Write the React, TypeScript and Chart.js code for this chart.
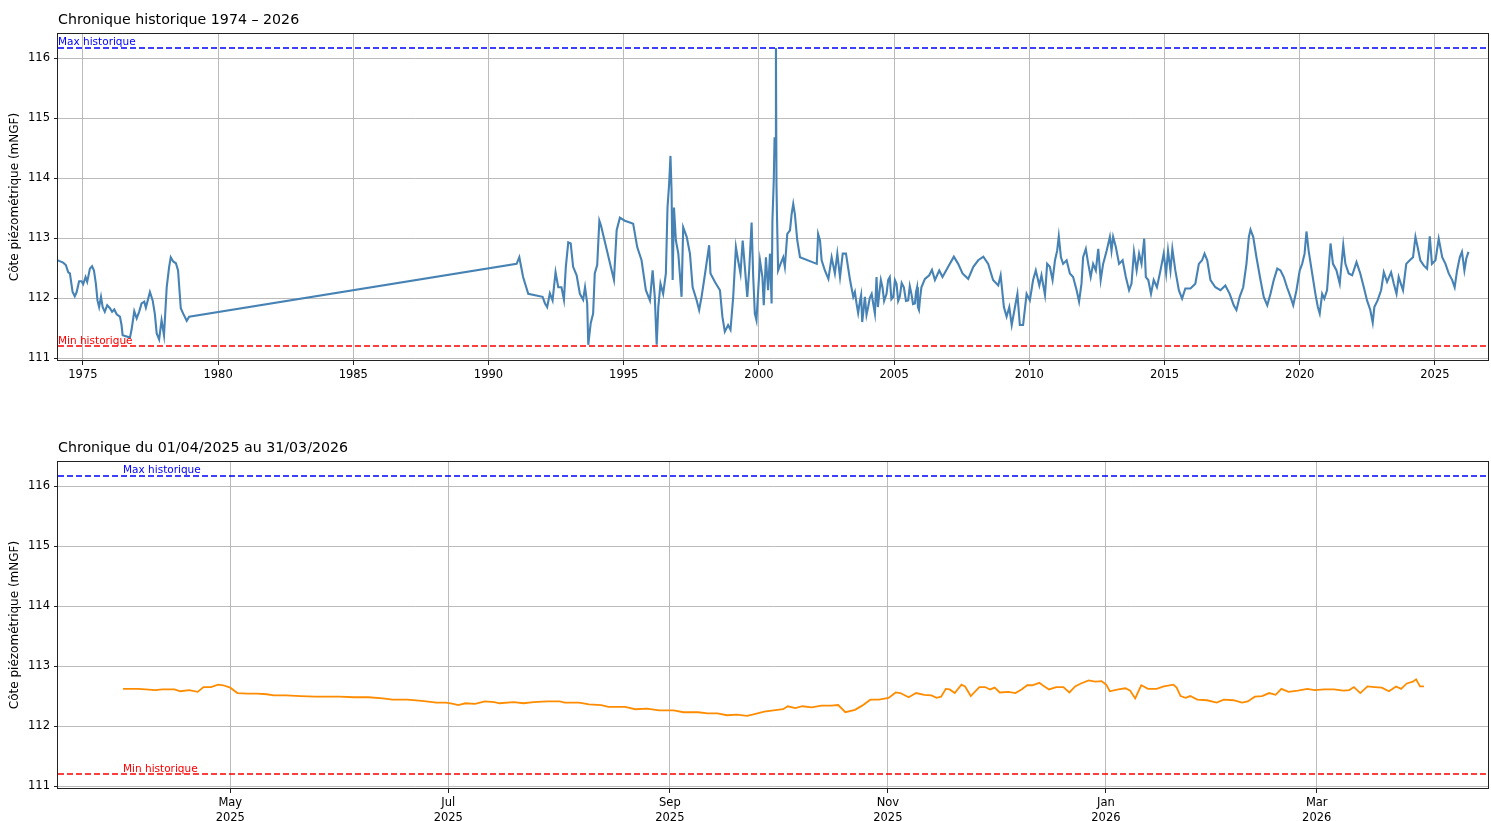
import React, { useEffect, useRef } from "react";
import { Chart, registerables } from "chart.js";

Chart.register(...registerables);

const MAX_HIST = 116.17;
const MIN_HIST = 111.2;

const yTicks = [111, 112, 113, 114, 115, 116];
const yearTicks = [1975, 1980, 1985, 1990, 1995, 2000, 2005, 2010, 2015, 2020, 2025];
const monthTickDays = [30, 91, 153, 214, 275, 334];
const monthTickLabels = [
  ["May", "2025"],
  ["Jul", "2025"],
  ["Sep", "2025"],
  ["Nov", "2025"],
  ["Jan", "2026"],
  ["Mar", "2026"],
];

// Historical series: fractional years
const histYears = [
  1974.08, 1974.12, 1974.27, 1974.37, 1974.46, 1974.52, 1974.62, 1974.70, 1974.77, 1974.86, 1974.95,
  1975.01, 1975.10, 1975.16, 1975.26, 1975.34, 1975.41, 1975.48, 1975.54, 1975.60, 1975.67, 1975.73,
  1975.81, 1975.90, 1976.00, 1976.08, 1976.16, 1976.25, 1976.37, 1976.43, 1976.47, 1976.74, 1976.80,
  1976.90, 1976.99, 1977.08, 1977.17, 1977.27, 1977.33, 1977.48, 1977.58, 1977.66, 1977.73, 1977.82,
  1977.91, 1978.00, 1978.10, 1978.19, 1978.25, 1978.34, 1978.44, 1978.52, 1978.62, 1978.71, 1978.84,
  1978.93,
  1991.04, 1991.14, 1991.28, 1991.47, 1992.00, 1992.09, 1992.17, 1992.27, 1992.37, 1992.48, 1992.58,
  1992.70, 1992.79, 1992.86, 1992.95, 1993.04, 1993.13, 1993.26, 1993.38, 1993.50, 1993.57, 1993.65,
  1993.69, 1993.78, 1993.87, 1993.93, 1994.02, 1994.10, 1994.16, 1994.64, 1994.74, 1994.86, 1995.04,
  1995.23, 1995.35, 1995.50, 1995.66, 1995.82, 1995.97, 1996.07, 1996.15, 1996.22, 1996.28, 1996.36,
  1996.46, 1996.56, 1996.62, 1996.68, 1996.73, 1996.77, 1996.81, 1996.86, 1996.93, 1997.02, 1997.14,
  1997.20, 1997.33, 1997.45, 1997.55, 1997.70, 1997.79, 1997.88, 1998.00, 1998.16, 1998.21, 1998.37,
  1998.56, 1998.65, 1998.74, 1998.86, 1998.95, 1999.05, 1999.15, 1999.23, 1999.32, 1999.40, 1999.48,
  1999.57, 1999.64, 1999.73, 1999.79, 1999.85, 1999.91, 2000.04, 2000.13, 2000.18, 2000.26, 2000.34,
  2000.41, 2000.47, 2000.50, 2000.55, 2000.58, 2000.60, 2000.63, 2000.65, 2000.67, 2000.71, 2000.80,
  2000.90, 2000.96, 2001.05, 2001.15, 2001.21, 2001.27, 2001.33, 2001.42, 2001.52, 2002.14, 2002.19,
  2002.26, 2002.32, 2002.44, 2002.57, 2002.69, 2002.81, 2002.90, 2003.00, 2003.10, 2003.22, 2003.37,
  2003.49, 2003.55, 2003.61, 2003.67, 2003.74, 2003.78, 2003.82, 2003.87, 2003.92, 2003.98, 2004.04,
  2004.10, 2004.17, 2004.23, 2004.29, 2004.35, 2004.40, 2004.45, 2004.51, 2004.57, 2004.63, 2004.72,
  2004.78, 2004.84, 2004.90, 2004.97, 2005.03, 2005.09, 2005.15, 2005.21, 2005.28, 2005.36, 2005.44,
  2005.52, 2005.58, 2005.64, 2005.70, 2005.77, 2005.81, 2005.85, 2005.88, 2005.92, 2005.96, 2006.01,
  2006.14, 2006.30, 2006.40, 2006.51, 2006.67, 2006.79, 2007.00, 2007.21, 2007.37, 2007.53, 2007.74,
  2007.93, 2008.11, 2008.30, 2008.48, 2008.66, 2008.85, 2008.94, 2009.06, 2009.16, 2009.26, 2009.35,
  2009.47, 2009.56, 2009.65, 2009.77, 2009.90, 2010.02, 2010.14, 2010.24, 2010.37, 2010.45, 2010.58,
  2010.66, 2010.76, 2010.86, 2010.95, 2011.03, 2011.09, 2011.17, 2011.25, 2011.38, 2011.50, 2011.62,
  2011.75, 2011.84, 2011.93, 2011.99, 2012.09, 2012.18, 2012.27, 2012.36, 2012.46, 2012.55, 2012.64,
  2012.73, 2012.86, 2012.98, 2013.04, 2013.10, 2013.20, 2013.32, 2013.45, 2013.57, 2013.69, 2013.78,
  2013.87, 2013.97, 2014.06, 2014.15, 2014.25, 2014.31, 2014.40, 2014.50, 2014.60, 2014.72, 2014.85,
  2014.97, 2015.06, 2015.13, 2015.22, 2015.29, 2015.40, 2015.53, 2015.65, 2015.77, 2015.96, 2016.14,
  2016.27, 2016.39, 2016.48, 2016.58, 2016.70, 2016.88, 2017.07, 2017.25, 2017.41, 2017.56, 2017.66,
  2017.78, 2017.91, 2018.03, 2018.12, 2018.18, 2018.28, 2018.40, 2018.55, 2018.67, 2018.80, 2018.92,
  2019.04, 2019.17, 2019.29, 2019.41, 2019.53, 2019.66, 2019.76, 2019.88, 2020.00, 2020.09, 2020.18,
  2020.25, 2020.33, 2020.46, 2020.58, 2020.67, 2020.74, 2020.83, 2020.91, 2021.01, 2021.14, 2021.23,
  2021.36, 2021.48, 2021.61, 2021.69, 2021.81, 2021.94, 2022.10, 2022.24, 2022.37, 2022.49, 2022.61,
  2022.70, 2022.76, 2022.88, 2023.01, 2023.11, 2023.23, 2023.38, 2023.48, 2023.58, 2023.66, 2023.82,
  2023.94, 2024.07, 2024.19, 2024.28, 2024.36, 2024.46, 2024.59, 2024.71, 2024.81, 2024.89, 2025.02,
  2025.14, 2025.27, 2025.39, 2025.51, 2025.64, 2025.73, 2025.82, 2025.92, 2026.00, 2026.09, 2026.16,
  2026.24,
];

const histLevels = [
  112.63, 112.62, 112.59, 112.55, 112.43, 112.41, 112.10, 112.03, 112.10, 112.28, 112.28,
  112.23, 112.35, 112.27, 112.49, 112.53, 112.46, 112.24, 111.96, 111.85, 112.02, 111.85,
  111.77, 111.88, 111.83, 111.77, 111.81, 111.73, 111.69, 111.55, 111.38, 111.34, 111.47,
  111.78, 111.66, 111.77, 111.91, 111.94, 111.84, 112.10, 111.96, 111.74, 111.41, 111.31,
  111.63, 111.38, 112.18, 112.52, 112.68, 112.61, 112.58, 112.46, 111.83, 111.74, 111.62,
  111.69,
  112.57, 112.68, 112.35, 112.07, 112.02, 111.91, 111.85, 112.08, 111.96, 112.43, 112.18,
  112.18, 111.97, 112.52, 112.93, 112.91, 112.52, 112.38, 112.07, 111.97, 112.18, 111.91,
  111.22, 111.58, 111.74, 112.41, 112.55, 113.29, 113.21, 112.30, 113.13, 113.34, 113.29,
  113.26, 113.24, 112.85, 112.63, 112.13, 111.96, 112.46, 112.02, 111.22, 111.85, 112.24,
  112.07, 112.41, 113.51, 113.90, 114.37, 113.79, 112.30, 113.51, 112.96, 112.74, 112.02,
  113.18, 113.02, 112.74, 112.18, 111.96, 111.80, 112.02, 112.38, 112.88, 112.41, 112.27,
  112.13, 111.69, 111.44, 111.55, 111.47, 112.02, 112.85, 112.63, 112.41, 112.96, 112.52,
  112.02, 112.46, 113.26, 112.35, 111.74, 111.63, 112.63, 112.35, 111.88, 112.68, 112.13,
  112.74, 111.91, 113.29, 113.96, 114.68, 114.46, 116.17, 113.90, 113.35, 112.46, 112.57,
  112.68, 112.52, 113.07, 113.13, 113.40, 113.57, 113.40, 112.96, 112.68, 112.57, 113.07,
  112.96, 112.63, 112.46, 112.32, 112.68, 112.41, 112.74, 112.35, 112.74, 112.74, 112.30,
  112.02, 112.10, 111.91, 111.75, 111.96, 112.05, 111.60, 111.80, 112.02, 111.72, 111.85,
  112.00, 112.07, 111.90, 111.74, 112.35, 111.85, 112.07, 112.30, 112.18, 111.95, 112.07,
  112.30, 112.35, 111.98, 112.02, 112.30, 112.24, 111.95, 112.02, 112.25, 112.18, 111.95,
  111.96, 112.20, 112.07, 111.90, 111.91, 112.10, 112.18, 111.85, 111.80, 112.00, 112.18,
  112.32, 112.38, 112.47, 112.30, 112.46, 112.35, 112.52, 112.69, 112.57, 112.41, 112.32,
  112.52, 112.63, 112.69, 112.57, 112.30, 112.21, 112.38, 111.85, 111.69, 111.85, 111.55,
  111.85, 112.07, 111.55, 111.55, 112.07, 111.96, 112.30, 112.46, 112.21, 112.38, 112.05,
  112.57, 112.52, 112.30, 112.63, 112.79, 113.03, 112.68, 112.57, 112.63, 112.41, 112.35,
  112.13, 111.94, 112.24, 112.68, 112.82, 112.57, 112.35, 112.57, 112.46, 112.82, 112.30,
  112.57, 112.79, 113.02, 112.79, 113.02, 112.85, 112.57, 112.63, 112.35, 112.13, 112.24,
  112.77, 112.46, 112.74, 112.57, 112.99, 112.35, 112.30, 112.07, 112.30, 112.18, 112.46,
  112.74, 112.41, 112.79, 112.46, 112.82, 112.46, 112.13, 111.99, 112.16, 112.16, 112.24,
  112.57, 112.63, 112.74, 112.63, 112.30, 112.18, 112.13, 112.21, 112.07, 111.88, 111.80,
  112.02, 112.18, 112.57, 113.02, 113.14, 113.02, 112.68, 112.30, 112.02, 111.88, 112.07,
  112.30, 112.49, 112.46, 112.35, 112.18, 112.02, 111.88, 112.13, 112.46, 112.57, 112.74,
  113.11, 112.79, 112.41, 112.07, 111.85, 111.74, 112.07, 111.99, 112.13, 112.91, 112.57,
  112.46, 112.24, 112.88, 112.57, 112.41, 112.38, 112.60, 112.41, 112.18, 111.96, 111.80,
  111.59, 111.85, 111.96, 112.13, 112.43, 112.27, 112.43, 112.24, 112.07, 112.35, 112.13,
  112.57, 112.63, 112.68, 113.02, 112.85, 112.63, 112.54, 112.49, 113.03, 112.57, 112.63,
  112.99, 112.68, 112.57, 112.41, 112.30, 112.18, 112.46, 112.68, 112.77, 112.46, 112.66,
  112.77,
];

// Last 12 months: days since 01/04/2025
const recentDays = [
  0, 4.2, 6.3, 9.0, 11.0, 14.4, 16.0, 18.5, 20.9, 22.5, 24.6, 26.6, 28.0, 30.0, 32.0, 34.8, 37.5,
  40.2, 42.2, 45.6, 49.7, 53.7, 57.8, 60.5, 64.6, 68.7, 72.7, 75.4, 79.5, 83.6, 87.7, 90.4, 92.4,
  93.8, 95.8, 98.5, 101.2, 103.9, 105.3, 109.3, 112.1, 114.8, 118.8, 122.2, 123.6, 127.6, 130.4,
  133.8, 135.8, 140.5, 143.3, 146.6, 150.0, 154.1, 156.8, 160.9, 163.6, 166.3, 169.0, 171.7, 174.6,
  176.7, 179.4, 182.0, 184.7, 186.0, 188.1, 190.1, 192.7, 195.4, 198.1, 200.1, 202.1, 204.8, 206.8,
  209.1, 211.5, 214.2, 216.2, 217.5, 219.8, 221.9, 224.2, 226.2, 227.6, 228.9, 230.2, 231.3, 232.7,
  234.6, 235.6, 237.2, 239.6, 241.2, 242.6, 243.9, 245.3, 247.7, 249.7, 251.4, 253.0, 254.4, 256.4,
  257.3, 259.1, 261.1, 263.1, 264.8, 266.4, 268.0, 270.2, 272.0, 273.8, 275.1, 276.1, 278.5, 280.5,
  281.8, 283.2, 284.9, 286.8, 289.2, 291.2, 293.9, 294.8, 295.9, 297.3, 298.6, 300.6, 303.3, 306.0,
  308.0, 310.7, 313.1, 314.7, 316.7, 318.7, 320.7, 322.5, 324.1, 326.1, 328.7, 331.4, 333.4, 336.1,
  338.8, 341.5, 343.1, 344.4, 346.2, 348.2, 350.2, 352.2, 354.2, 356.2, 357.6, 359.2, 360.9, 361.8,
  362.9, 364.0,
];

const recentLevels = [
  112.62, 112.62, 112.61, 112.60, 112.61, 112.61, 112.58, 112.60, 112.57, 112.65, 112.65, 112.69,
  112.68, 112.64, 112.55, 112.54, 112.54, 112.53, 112.51, 112.51, 112.50, 112.49, 112.49, 112.49,
  112.48, 112.48, 112.46, 112.44, 112.44, 112.42, 112.39, 112.39, 112.37, 112.35, 112.38, 112.37,
  112.41, 112.40, 112.38, 112.40, 112.38, 112.40, 112.41, 112.41, 112.39, 112.39, 112.36, 112.35,
  112.32, 112.32, 112.28, 112.29, 112.26, 112.26, 112.23, 112.23, 112.21, 112.21, 112.18, 112.19,
  112.17, 112.20, 112.24, 112.26, 112.28, 112.33, 112.30, 112.33, 112.31, 112.34, 112.34, 112.35,
  112.23, 112.27, 112.34, 112.44, 112.44, 112.47, 112.56, 112.55, 112.48, 112.55, 112.52, 112.51,
  112.47, 112.49, 112.62, 112.61, 112.55, 112.69, 112.66, 112.50, 112.65, 112.65, 112.61, 112.64,
  112.56, 112.57, 112.55, 112.61, 112.68, 112.68, 112.72, 112.68, 112.61, 112.65, 112.65, 112.56,
  112.66, 112.71, 112.76, 112.74, 112.75, 112.69, 112.58, 112.61, 112.63, 112.59, 112.46, 112.68,
  112.62, 112.62, 112.66, 112.69, 112.64, 112.50, 112.47, 112.50, 112.44, 112.43, 112.39, 112.44,
  112.43, 112.39, 112.41, 112.49, 112.50, 112.55, 112.52, 112.62, 112.57, 112.59, 112.62, 112.60,
  112.61, 112.61, 112.59, 112.60, 112.65, 112.55, 112.66, 112.65, 112.64, 112.58, 112.66, 112.62,
  112.71, 112.74, 112.78, 112.66, 112.66,
];

const FONT = "'DejaVu Sans', 'Liberation Sans', sans-serif";
const GRID_COLOR = "rgba(176,176,176,0.85)";
const TICK_COLOR = "#222";

function overlayPlugin(title: string, labelX: number) {
  return {
    id: "overlay",
    afterDraw(chart: any) {
      const { ctx, chartArea, scales } = chart;
      const xs = scales.x;
      const ys = scales.y;
      ctx.save();
      // frame
      ctx.strokeStyle = "#222";
      ctx.lineWidth = 1;
      ctx.strokeRect(
        Math.round(chartArea.left) - 0.5,
        Math.round(chartArea.top) + 0.5,
        Math.round(chartArea.right - chartArea.left),
        Math.round(chartArea.bottom - chartArea.top) - 1
      );
      // title
      ctx.fillStyle = "#000";
      ctx.font = `14.2px ${FONT}`;
      ctx.textAlign = "left";
      ctx.textBaseline = "alphabetic";
      ctx.fillText(title, chartArea.left, chartArea.top - 9);
      // annotations
      const tx = xs.getPixelForValue(labelX);
      ctx.font = `10.5px ${FONT}`;
      ctx.fillStyle = "#0000ff";
      ctx.fillText("Max historique", tx, ys.getPixelForValue(MAX_HIST) - 2.5);
      ctx.fillStyle = "#ff0000";
      ctx.fillText("Min historique", tx, ys.getPixelForValue(MIN_HIST) - 2.5);
      // y label
      ctx.fillStyle = "#000";
      ctx.font = `12px ${FONT}`;
      ctx.translate(15, (chartArea.top + chartArea.bottom) / 2);
      ctx.rotate(-Math.PI / 2);
      ctx.textAlign = "center";
      ctx.textBaseline = "middle";
      ctx.fillText("Côte piézométrique (mNGF)", 0, 0);
      ctx.restore();
    },
  };
}

function yScale() {
  return {
    type: "linear",
    min: 110.95,
    max: 116.42,
    afterFit: (s: any) => {
      s.width = 58;
    },
    afterBuildTicks: (s: any) => {
      s.ticks = yTicks.map((v) => ({ value: v }));
    },
    ticks: {
      color: "#000",
      font: { family: FONT, size: 11.5 },
      padding: 4,
      callback: (v: any) => String(v),
    },
    grid: {
      color: GRID_COLOR,
      lineWidth: 1,
      tickColor: TICK_COLOR,
      tickLength: 4,
      drawTicks: true,
    },
    border: { display: false },
  };
}

function hline(value: number, xmin: number, xmax: number, color: string) {
  return {
    data: [
      { x: xmin, y: value },
      { x: xmax, y: value },
    ],
    borderColor: color,
    borderWidth: 1.6,
    borderDash: [6, 3],
    pointRadius: 0,
    order: 0,
  };
}

function ChartCanvas({ width, height, makeConfig }: { width: number; height: number; makeConfig: () => any }) {
  const ref = useRef<HTMLCanvasElement | null>(null);
  useEffect(() => {
    if (!ref.current) return;
    const chart = new Chart(ref.current, makeConfig());
    return () => chart.destroy();
  }, []);
  return <canvas ref={ref} width={width} height={height} style={{ display: "block", width, height }} />;
}

function historicConfig() {
  const xmin = 1974.08;
  const xmax = 2027.0;
  return {
    type: "line",
    data: {
      datasets: [
        {
          data: histYears.map((x, i) => ({ x, y: histLevels[i] })),
          borderColor: "#4682b4",
          borderWidth: 2.1,
          pointRadius: 0,
          tension: 0,
          order: 1,
        },
        hline(MAX_HIST, xmin, xmax, "#0000ff"),
        hline(MIN_HIST, xmin, xmax, "#ff0000"),
      ],
    },
    options: {
      animation: false,
      responsive: false,
      events: [],
      layout: { padding: { left: 0, top: 33, right: 2, bottom: 0 } },
      plugins: { legend: { display: false }, tooltip: { enabled: false }, title: { display: false } },
      scales: {
        x: {
          type: "linear",
          min: xmin,
          max: xmax,
          afterFit: (s: any) => {
            s.height = 49;
          },
          afterBuildTicks: (s: any) => {
            s.ticks = yearTicks.map((v) => ({ value: v }));
          },
          ticks: {
            autoSkip: false,
            maxRotation: 0,
            color: "#000",
            font: { family: FONT, size: 11.5 },
            padding: 3,
            callback: (v: any) => String(v),
          },
          grid: {
            color: GRID_COLOR,
            lineWidth: 1,
            tickColor: TICK_COLOR,
            tickLength: 4,
            drawTicks: true,
          },
          border: { display: false },
        },
        y: yScale(),
      },
    },
    plugins: [overlayPlugin("Chronique historique 1974 \u2013 2026", histYears[0])],
  };
}

function recentConfig() {
  const xmin = -18.2;
  const xmax = 382.2;
  return {
    type: "line",
    data: {
      datasets: [
        {
          data: recentDays.map((x, i) => ({ x, y: recentLevels[i] })),
          borderColor: "#ff8c00",
          borderWidth: 1.8,
          pointRadius: 0,
          tension: 0,
          order: 1,
        },
        hline(MAX_HIST, xmin, xmax, "#0000ff"),
        hline(MIN_HIST, xmin, xmax, "#ff0000"),
      ],
    },
    options: {
      animation: false,
      responsive: false,
      events: [],
      layout: { padding: { left: 0, top: 51, right: 2, bottom: 0 } },
      plugins: { legend: { display: false }, tooltip: { enabled: false }, title: { display: false } },
      scales: {
        x: {
          type: "linear",
          min: xmin,
          max: xmax,
          afterFit: (s: any) => {
            s.height = 32;
          },
          afterBuildTicks: (s: any) => {
            s.ticks = monthTickDays.map((v) => ({ value: v }));
          },
          ticks: {
            autoSkip: false,
            maxRotation: 0,
            color: "#000",
            font: { family: FONT, size: 11.5, lineHeight: 1.3 },
            padding: 3,
            callback: (v: any) => {
              const i = monthTickDays.indexOf(v);
              return i >= 0 ? monthTickLabels[i] : "";
            },
          },
          grid: {
            color: GRID_COLOR,
            lineWidth: 1,
            tickColor: TICK_COLOR,
            tickLength: 4,
            drawTicks: true,
          },
          border: { display: false },
        },
        y: yScale(),
      },
    },
    plugins: [overlayPlugin("Chronique du 01/04/2025 au 31/03/2026", recentDays[0])],
  };
}

export default function App() {
  return (
    <div style={{ position: "absolute", left: 0, top: 0, width: 1491, height: 821, background: "#fff" }}>
      <ChartCanvas width={1491} height={410} makeConfig={historicConfig} />
      <ChartCanvas width={1491} height={411} makeConfig={recentConfig} />
    </div>
  );
}
